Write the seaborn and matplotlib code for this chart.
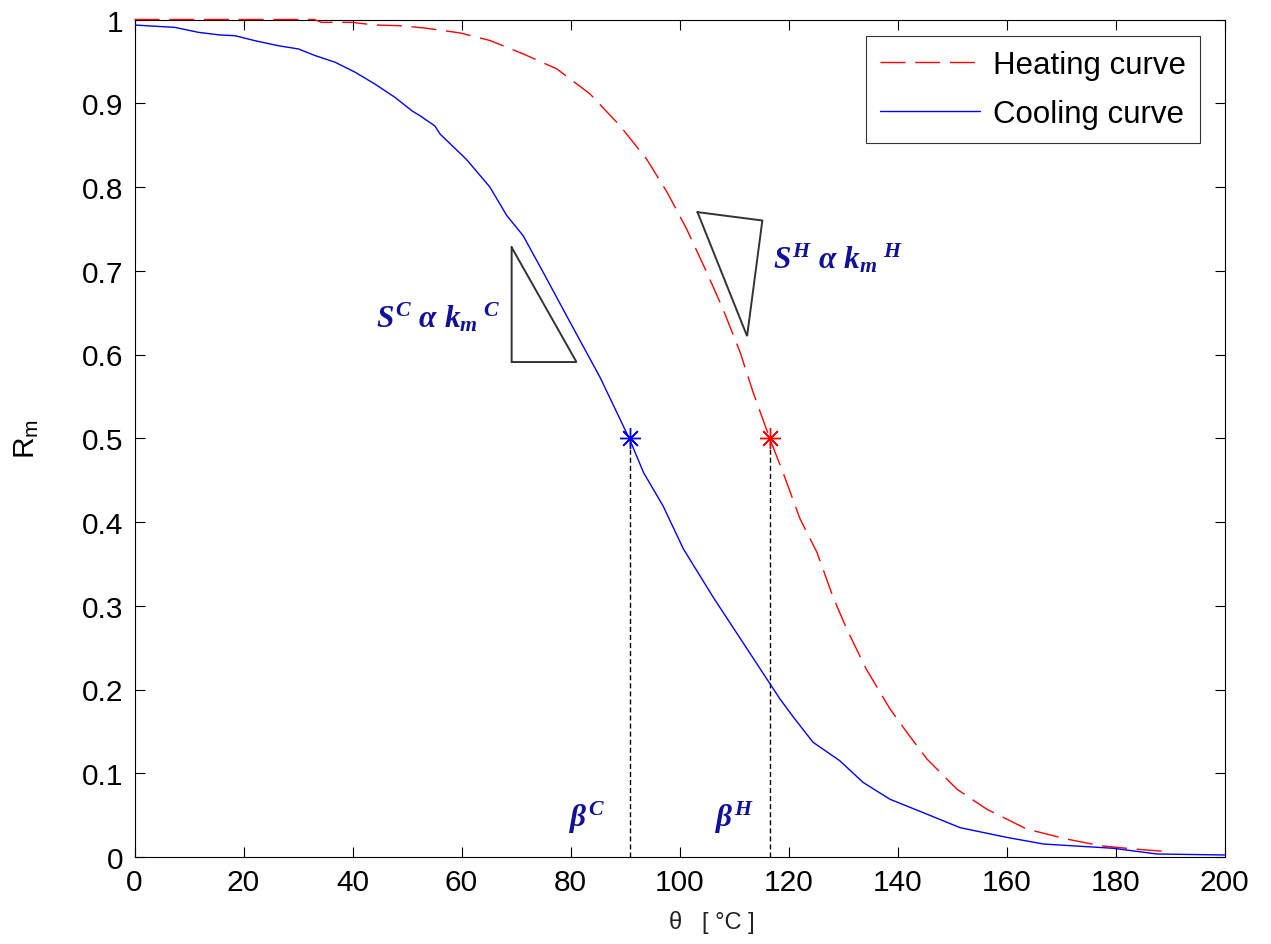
import numpy as np
import pandas as pd
import matplotlib
matplotlib.use("Agg")
import matplotlib.pyplot as plt
from matplotlib.ticker import FuncFormatter
import seaborn as sns

# ---------------- data ----------------
heat_x = [0, 33, 34.3, 39.9, 44.1, 48.7, 53.3, 59.7, 65.2, 71.3, 77.5, 83.6, 89.1, 94.0,
          97.7, 101.3, 105.0, 108.0, 111.1, 113.5, 116.6, 119.0, 122.1, 125.2, 128.2,
          130.7, 134.3, 138.6, 141.7, 145.4, 150.9, 156.4, 163.7, 171.0, 177.2, 183.3, 189.7]
heat_y = [1.0, 1.0, 0.9966, 0.9966, 0.9934, 0.9926, 0.9898, 0.984, 0.975, 0.959, 0.941,
          0.911, 0.873, 0.833, 0.794, 0.750, 0.698, 0.654, 0.603, 0.555, 0.499, 0.459,
          0.404, 0.364, 0.310, 0.272, 0.224, 0.177, 0.149, 0.117, 0.081, 0.057, 0.0334,
          0.0215, 0.0135, 0.0096, 0.0064]

cool_x = [0, 7.4, 11.7, 15.7, 18.4, 22.1, 26.4, 30.1, 33.1, 36.8, 40.5, 44.1, 47.8, 50.9,
          52.4, 55.1, 56.1, 60.9, 65.2, 68.3, 71.3, 75.0, 79.3, 85.4, 87.9, 90.9, 93.4,
          97.0, 100.7, 106.2, 118.4, 120.9, 124.5, 129.4, 133.7, 138.6, 144.7, 151.5,
          160.0, 166.8, 179.6, 187.6, 200.0]
cool_y = [0.9934, 0.9906, 0.9847, 0.9815, 0.9807, 0.9747, 0.9687, 0.9648, 0.957, 0.949,
          0.937, 0.923, 0.907, 0.891, 0.885, 0.873, 0.863, 0.833, 0.800, 0.766, 0.742,
          0.698, 0.646, 0.573, 0.539, 0.498, 0.459, 0.419, 0.368, 0.310, 0.189, 0.167,
          0.137, 0.115, 0.089, 0.069, 0.053, 0.035, 0.0235, 0.0155, 0.0104, 0.0036, 0.0024]

beta_c = 90.9
beta_h = 116.6
half_level = 0.5

tri_c_x = [69.2, 69.2, 81.1, 69.2]
tri_c_y = [0.728, 0.591, 0.591, 0.728]
tri_h_x = [103.3, 115.2, 112.4, 103.3]
tri_h_y = [0.770, 0.760, 0.622, 0.770]

series_labels = ["Heating curve", "Cooling curve"]
x_ticks = list(range(0, 201, 20))
y_ticks = [round(0.1 * i, 1) for i in range(11)]

# ---------------- style ----------------
sns.set_style("ticks")
plt.rcParams["font.family"] = ["Liberation Sans", "DejaVu Sans"]
plt.rcParams["text.color"] = "black"
plt.rcParams["axes.labelcolor"] = "black"
plt.rcParams["mathtext.fontset"] = "custom"
plt.rcParams["mathtext.rm"] = "Liberation Serif:bold:italic"
plt.rcParams["mathtext.it"] = "Liberation Serif:bold:italic"
plt.rcParams["mathtext.bf"] = "Liberation Serif:bold:italic"
plt.rcParams["mathtext.sf"] = "Liberation Sans"

FS = 21.5
W, H = 1271, 945
fig = plt.figure(figsize=(W / 100, H / 100), dpi=100)
fig.patch.set_facecolor("white")
ax = fig.add_axes([134.5 / W, (H - 858) / H, 1090 / W, 837.5 / H])
ax.set_facecolor("white")

heat_df = pd.DataFrame({"theta": heat_x, "Rm": heat_y})
cool_df = pd.DataFrame({"theta": cool_x, "Rm": cool_y})

sns.lineplot(data=heat_df, x="theta", y="Rm", ax=ax, color="#ff0000", lw=1.0,
             linestyle=(0, (18, 7)), label=series_labels[0], zorder=3, clip_on=False)
sns.lineplot(data=cool_df, x="theta", y="Rm", ax=ax, color="#0000ff", lw=1.0,
             label=series_labels[1], zorder=3)

# vertical dashed lines at beta values
for bx in (beta_c, beta_h):
    ax.plot([bx, bx], [0, half_level], color="black", lw=1.0, linestyle=(0, (3.6, 2.2)))
# asterisk markers
ax.plot([beta_c], [half_level], marker=(8, 2, 0), ms=15, mew=1.0, color="#0000ff", ls="none", zorder=4)
ax.plot([beta_h], [half_level], marker=(8, 2, 0), ms=15, mew=1.0, color="#ff0000", ls="none", zorder=4)

# slope triangles
ax.plot(tri_c_x, tri_c_y, color="#333333", lw=1.4, solid_joinstyle="miter")
ax.plot(tri_h_x, tri_h_y, color="#333333", lw=1.4, solid_joinstyle="miter")

txt_color = "#10109a"
AFS = 22.5
ax.text(67.1, 0.634, r"$S^{C}\ \alpha\ k_{m}{}^{\ C}$", color=txt_color, fontsize=AFS,
        ha="right", va="baseline")
ax.text(117.1, 0.704, r"$S^{H}\ \alpha\ k_{m}{}^{\ H}$", color=txt_color, fontsize=AFS,
        ha="left", va="baseline")
ax.text(79.8, 0.0374, r"$\beta^{C}$", color=txt_color, fontsize=AFS, ha="left", va="baseline")
ax.text(106.6, 0.0374, r"$\beta^{H}$", color=txt_color, fontsize=AFS, ha="left", va="baseline")

# axes
ax.set_xlim(0, 200)
ax.set_ylim(0, 1)
ax.set_xticks(x_ticks)
ax.set_yticks(y_ticks)
fmt = FuncFormatter(lambda v, p: "%g" % v)
ax.xaxis.set_major_formatter(fmt)
ax.yaxis.set_major_formatter(fmt)
ax.tick_params(direction="in", length=7.2, width=0.8, labelsize=FS, pad=8,
               top=True, right=True, colors="black")
for sp in ax.spines.values():
    sp.set_visible(True)
    sp.set_color("black")
    sp.set_linewidth(0.8)

ax.set_ylabel(r"$\mathsf{R}_{\mathsf{m}}$", fontsize=FS, color="black")
ax.yaxis.set_label_coords(-0.086, 0.5)
ax.set_xlabel("θ   [ °C ]", fontsize=17, color="#222222")
ax.xaxis.set_label_coords((712 - 134.5) / 1090, -0.063)

leg = ax.legend(loc="upper right", bbox_to_anchor=(0.9775, 0.980), borderaxespad=0,
                fontsize=22.5, frameon=True, fancybox=False, handlelength=3.2,
                handletextpad=0.4, labelspacing=0.6, borderpad=0.45)
leg.get_frame().set_edgecolor("black")
leg.get_frame().set_linewidth(0.8)
for t in leg.get_texts():
    t.set_color("black")

fig.savefig("out.png", dpi=100, facecolor="white")
